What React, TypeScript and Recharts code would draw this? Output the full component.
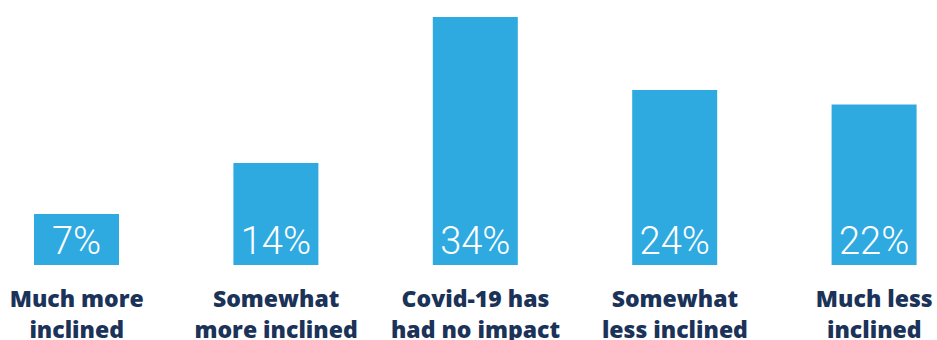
import React from "react";
import { Bar, BarChart, LabelList, XAxis, YAxis } from "recharts";

const categories = [
  "Much more\ninclined",
  "Somewhat\nmore inclined",
  "Covid-19 has\nhad no impact",
  "Somewhat\nless inclined",
  "Much less\ninclined",
];
const shares = [7, 14, 34, 24, 22];

const BAR_COLOR = "#2EAAE1";
const TEXT_COLOR = "#1B3259";

const data = categories.map((c, i) => ({ category: c, share: shares[i] }));

function CategoryTick(props: any) {
  const { x, y, payload } = props;
  const lines = String(payload.value).split("\n");
  return (
    <text
      x={x}
      y={y}
      textAnchor="middle"
      fill={TEXT_COLOR}
      style={{ fontFamily: "'Open Sans', 'Liberation Sans', sans-serif", fontWeight: 800, fontSize: 23 }}
    >
      {lines.map((l, i) => (
        <tspan key={i} x={x} dy={i === 0 ? 34 : 31}>
          {l}
        </tspan>
      ))}
    </text>
  );
}

function ValueLabel(props: any) {
  const { x, y, width, height, value } = props;
  return (
    <text
      x={x + width / 2}
      y={y + height - 11}
      textAnchor="middle"
      fill="#ffffff"
      style={{ fontFamily: "Roboto, 'Liberation Sans', sans-serif", fontWeight: 300, fontSize: 38 }}
    >
      {value}%
    </text>
  );
}

export default function App() {
  return (
    <div
      style={{
        position: "fixed",
        left: 0,
        top: 0,
        width: 937,
        height: 340,
        overflow: "hidden",
        background: "#fff",
      }}
    >
      <div style={{ position: "absolute", left: -23, top: 0 }}>
        <BarChart
          width={997}
          height={340}
          data={data}
          margin={{ top: 17, right: 0, left: 0, bottom: 0 }}
        >
          <XAxis
            dataKey="category"
            height={75}
            axisLine={false}
            tickLine={false}
            interval={0}
            tick={<CategoryTick />}
          />
          <YAxis hide domain={[0, 34]} />
          <Bar dataKey="share" fill={BAR_COLOR} barSize={85} isAnimationActive={false}>
            <LabelList dataKey="share" content={<ValueLabel />} />
          </Bar>
        </BarChart>
      </div>
    </div>
  );
}
